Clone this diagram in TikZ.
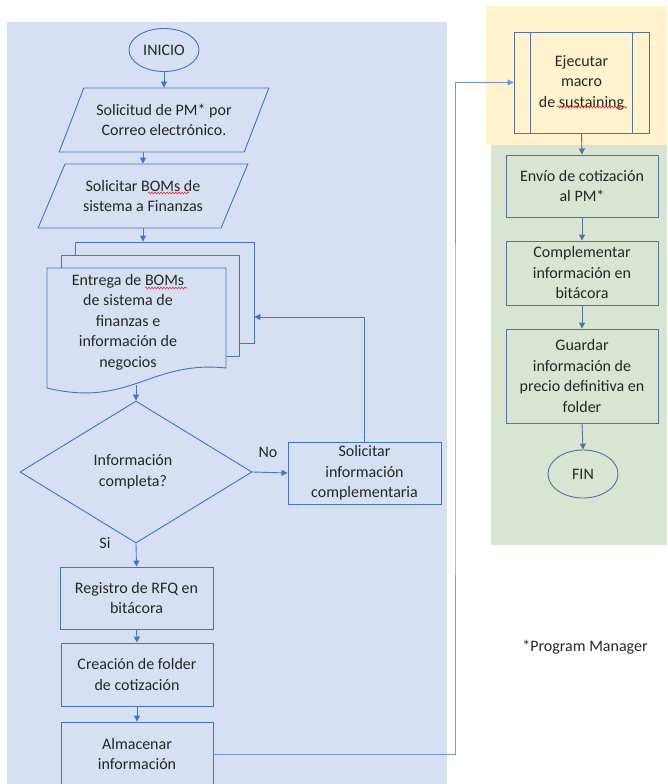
\documentclass[tikz,border=0pt]{standalone}
\usepackage{fontspec}
\setmainfont{Carlito}
\usetikzlibrary{shapes.geometric,arrows.meta,decorations.pathmorphing}

\definecolor{panelblue}{HTML}{D6E0F2}
\definecolor{panelyellow}{HTML}{FFF2CC}
\definecolor{panelgreen}{HTML}{DAE4D3}
\definecolor{lineblue}{HTML}{4472C4}
\definecolor{lineslate}{HTML}{53739A}
\definecolor{linebus}{HTML}{6F93D6}
\definecolor{ink}{HTML}{262626}
\definecolor{spellred}{HTML}{E03030}

\begin{document}
\begin{tikzpicture}[x=1pt,y=-1pt,
  txt/.style={font=\fontsize{16}{20.5}\selectfont, text=ink, align=center, inner sep=0pt},
  bluebox/.style={txt, rectangle, draw=lineblue, line width=0.9pt, fill=panelblue},
  greenbox/.style={txt, rectangle, draw=lineslate, line width=0.9pt, fill=panelgreen,
    minimum width=152pt},
  term/.style={txt, ellipse, line width=0.9pt},
  para/.style={txt, trapezium, trapezium stretches=true, draw=lineblue, line width=0.9pt,
    fill=panelblue, trapezium left angle=57, trapezium right angle=123,
    minimum width=210pt, minimum height=64pt},
  sheet/.style={rectangle, draw=lineblue, line width=0.9pt, fill=panelblue, inner sep=0pt},
  arr/.style={draw=lineblue, line width=0.9pt, -{Triangle[length=6pt,width=6pt]}},
  arrslate/.style={arr, draw=lineslate, fill=lineslate},
  lbl/.style={font=\fontsize{16}{20.5}\selectfont, text=ink, inner sep=0pt},
  spell/.style={draw=spellred, line width=0.6pt, decorate,
    decoration={snake, amplitude=0.9pt, segment length=3pt}}]

\useasboundingbox (0,0) rectangle (667,784);
\clip (0,0) rectangle (667,784);

% swimlane backgrounds
\fill[panelblue] (7,22) rectangle (447,800);
\fill[panelyellow] (486,6) rectangle (667,145);
\fill[panelgreen] (491,145) rectangle (667,545);

% left column
\node[term, draw=lineblue, fill=panelblue, minimum width=70pt, minimum height=43pt] (inicio) at (164,50) {INICIO};
\node[para] (sol1) at (164,120) {Solicitud de PM* por\\Correo electrónico.};
\node[para] (sol2) at (143,196) {Solicitar BOMs de\\sistema a Finanzas};
\draw[spell] ([shift={(5,-3)}]sol2.center) -- ([shift={(46,-3)}]sol2.center);

\node[sheet, minimum width=179pt, minimum height=101pt] (sheetA) at (164.5,292.5) {};
\node[sheet, minimum width=178pt, minimum height=101pt] (sheetB) at (150,305.5) {};
\draw[lineblue, line width=0.9pt, fill=panelblue] (47,268) -- (226,268) -- (226,368)
  .. controls (150,360) and (130,408) .. (47,388) -- cycle;
\node[txt] (doc) at (128,322) {Entrega de BOMs\\de sistema de\\finanzas e\\información de\\negocios};
\draw[spell] ([shift={(17,-34)}]doc.center) -- ([shift={(59,-34)}]doc.center);
\coordinate (docbot) at (136,385);

\node[txt, diamond, draw=lineblue, line width=0.9pt, fill=panelblue, aspect=1.63,
  minimum width=232pt, minimum height=142pt] (dec) at (136,472) {};
\node[txt] (dectxt) at (133,472) {Información\\completa?};

\node[bluebox, minimum width=153pt, minimum height=62pt] (sol3) at (364.5,473) {Solicitar\\información\\complementaria};
\coordinate (loop) at (364.5,317);

\node[lbl] (lblno) at (268,452) {No};
\node[lbl] (lblsi) at (105,543) {Si};

\node[bluebox, minimum width=153pt, minimum height=62pt] (reg) at (136.5,598) {Registro de RFQ en\\bitácora};
\node[bluebox, minimum width=152pt, minimum height=63pt] (cre) at (137,674.5) {Creación de folder\\de cotización};
\node[bluebox, minimum width=152pt, minimum height=64pt] (alm) at (137,754) {Almacenar\\información};
\coordinate (bus) at (455,400);

% right column
\node[txt, rectangle, draw=lineslate, line width=0.9pt, fill=panelyellow,
  minimum width=135pt, minimum height=101pt] (ejec) at (581.5,82.5) {Ejecutar\\macro\\de sustaining};
\draw[lineslate, line width=0.9pt] ([xshift=17pt]ejec.north west) -- ([xshift=17pt]ejec.south west);
\draw[lineslate, line width=0.9pt] ([xshift=-17pt]ejec.north east) -- ([xshift=-17pt]ejec.south east);
\draw[spell] ([shift={(-24.5,24.5)}]ejec.center) -- ([shift={(45.5,24.5)}]ejec.center);

\node[greenbox, minimum height=62pt] (env) at (582,186) {Envío de cotización\\al PM*};
\node[greenbox, minimum height=64pt] (comp) at (582,273) {Complementar\\información en\\bitácora};
\node[greenbox, minimum height=94pt] (guar) at (582,376) {Guardar\\información de\\precio definitiva en\\folder};
\node[term, draw=lineslate, fill=panelgreen, minimum width=70pt, minimum height=48pt] (fin) at (583,474) {FIN};

\node[lbl] (note) at (585,647) {*Program Manager};

% connectors
\draw[arr] (inicio.south) -- (inicio.south |- sol1.north);
\draw[arr] (sol2.center |- sol1.south) -- (sol2.center |- sol2.north);
\draw[arr] (sol2.south) -- (sol2.south |- sheetA.north);
\draw[arr] (docbot) -- (dec.north);
\draw[arr] (dec.east) -- (sol3.west);
\draw[arr] (sol3.north) -- (loop) -- (sheetA.east |- loop);
\draw[arr] (dec.south) -- (reg.north);
\draw[arr] (reg.south) -- (cre.north);
\draw[arr] (cre.south) -- (alm.north);
\draw[arr, draw=linebus] (alm.east) -| (bus) |- (ejec.west);

\draw[arrslate] (ejec.south) -- (env.north);
\draw[arrslate] (env.south) -- (comp.north);
\draw[arrslate] (comp.south) -- (guar.north);
\draw[arrslate] (guar.south) -- (fin.north);
\end{tikzpicture}
\end{document}
